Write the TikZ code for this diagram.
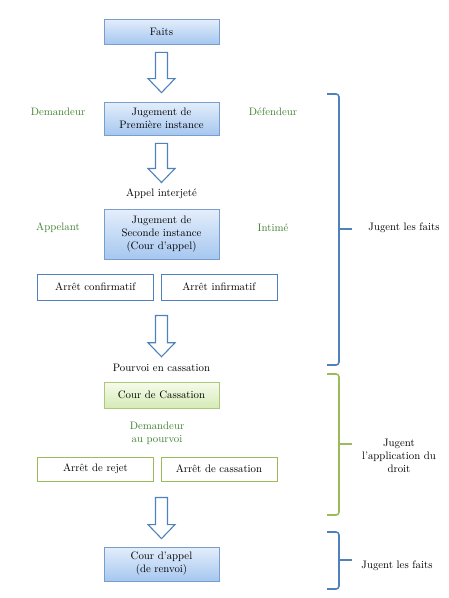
\documentclass[tikz,border=0pt]{standalone}
\usepackage{fontspec}
\usepackage{tikz}
\usetikzlibrary{calc, shadows}

\definecolor{boxline}{RGB}{122,158,204}
\definecolor{boxtop}{RGB}{228,238,251}
\definecolor{boxbot}{RGB}{166,199,240}
\definecolor{gboxline}{RGB}{172,200,122}
\definecolor{gboxtop}{RGB}{246,251,236}
\definecolor{gboxbot}{RGB}{214,235,182}
\definecolor{bline}{RGB}{79,129,189}
\definecolor{gline}{RGB}{155,187,89}
\definecolor{gtext}{RGB}{62,128,46}

% block arrow pointing down, from #1 to the tip #2
\newcommand{\bigdown}[2]{%
  \draw[blockarrow] ($(#1)+(-6,0)$) -- ($(#2)+(-6,-14)$) -- ($(#2)+(-13.5,-14)$) -- (#2)
    -- ($(#2)+(13.5,-14)$) -- ($(#2)+(6,-14)$) -- ($(#1)+(6,0)$) -- cycle;}

\begin{document}
\begin{tikzpicture}[
    x=1pt, y=-1pt,
    font=\fontsize{10.8}{13}\selectfont,
    court/.style={rectangle, draw=boxline, line width=0.8pt, top color=boxtop, bottom color=boxbot, minimum width=115pt, align=center, drop shadow={opacity=0.2, shadow xshift=0.8pt, shadow yshift=-1pt}},
    cassbox/.style={court, draw=gboxline, top color=gboxtop, bottom color=gboxbot},
    decision/.style={rectangle, draw=bline, line width=1pt, fill=white, minimum width=116pt, minimum height=26pt, align=center},
    gdecision/.style={decision, draw=gline},
    party/.style={text=gtext, align=center},
    blockarrow/.style={draw=bline, line width=1.1pt, fill=white, line join=miter},
    brace/.style={line width=1.6pt, rounded corners=3pt},
]
    \useasboundingbox (0,0) rectangle (449,598);

    \node (faits) [court, minimum height=25pt] at (161.5,31.5) {Faits};
    \node (premiere) [court, minimum height=33pt] at (161.5,118.5) {Jugement de\\Première instance};
    \node (appel) at (161.5,194) {Appel interjeté};
    \node (seconde) [court, minimum height=50pt] at (161.5,234) {Jugement de\\Seconde instance\\(Cour d’appel)};
    \node (confirm) [decision] at (95.5,287) {Arrêt confirmatif};
    \node (infirm) [decision] at (219,287) {Arrêt infirmatif};
    \node (pourvoi) at (161.5,368) {Pourvoi en cassation};
    \node (cassation) [cassbox, minimum height=26pt] at (161.5,395) {Cour de Cassation};
    \node (rejet) [gdecision, minimum height=24pt] at (95.5,469) {Arrêt de rejet};
    \node (casse) [gdecision, minimum height=24pt] at (219,469) {Arrêt de cassation};
    \node (renvoi) [court, minimum height=34pt] at (161.5,564) {Cour d’appel\\(de renvoi)};

    % parties
    \node (demandeur) [party] at (58,112) {Demandeur};
    \node (defendeur) [party] at (273,112) {Défendeur};
    \node (appelant) [party] at (58,228) {Appelant};
    \node (intime) [party] at (273,228) {Intimé};
    \node (dempourvoi) [party] at (157,433.5) {Demandeur\\au pourvoi};

    % arrows
    \coordinate (a1) at ($(faits.south)+(0,8)$);
    \coordinate (b1) at ($(premiere.north)+(0,-9)$);
    \coordinate (a2) at ($(premiere.south)+(0,8)$);
    \coordinate (b2) at ($(appel.north)+(0,-3)$);
    \coordinate (a3) at ($(confirm.south -| seconde.south)+(0,15)$);
    \coordinate (b3) at ($(pourvoi.north)+(0,-4)$);
    \coordinate (a4) at ($(rejet.south -| cassation.south)+(0,16)$);
    \coordinate (b4) at ($(renvoi.north)+(0,-8)$);
    \bigdown{a1}{b1}
    \bigdown{a2}{b2}
    \bigdown{a3}{b3}
    \bigdown{a4}{b4}

    % braces
    \node (faits1) at (404,228) {Jugent les faits};
    \node (droit) [align=center] at (399,456) {Jugent\\l’application du\\droit};
    \node (faits2) at (397,566) {Jugent les faits};

    \draw[brace, draw=bline] (327,94) -- (339,94) -- (339,365) -- (327,365);
    \draw[brace, draw=bline] (339,229) -- (352,229);
    \draw[brace, draw=gline] (327,374) -- (339,374) -- (339,515) -- (327,515);
    \draw[brace, draw=gline] (339,444) -- (352,444);
    \draw[brace, draw=bline] (327,532) -- (339,532) -- (339,589) -- (327,589);
    \draw[brace, draw=bline] (339,560) -- (352,560);

\end{tikzpicture}
\end{document}
